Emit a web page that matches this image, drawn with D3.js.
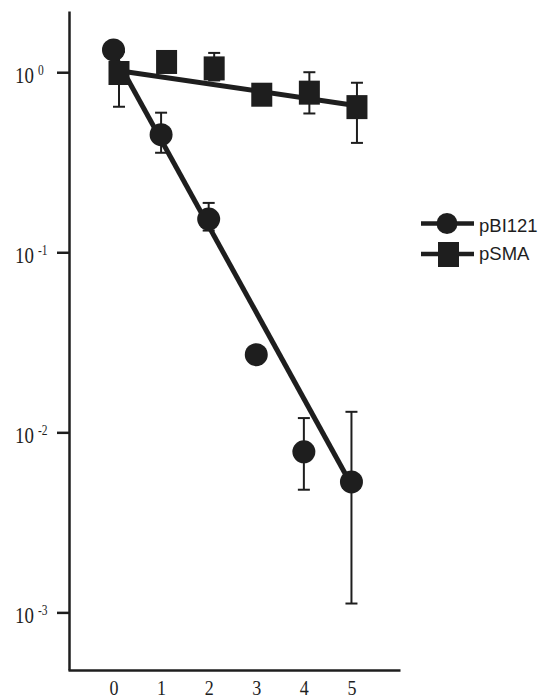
<!DOCTYPE html>
<html>
<head>
<meta charset="utf-8">
<script src="https://cdn.jsdelivr.net/npm/d3@7"></script>
<style>
  body { margin: 0; background: #fff; }
</style>
</head>
<body>
<script>
var width = 543,
    height = 700;

// data
var xVals = [0, 1, 2, 3, 4, 5];
var seriesNames = ["pBI121", "pSMA"];
var pbiMean = [1.33, 0.45, 0.153, 0.027, 0.0078, 0.0053];
var pbiLow  = [null, 0.357, 0.132, null, 0.0048, 0.00112];
var pbiHigh = [null, 0.596, 0.188, null, 0.012, 0.013];
var smaMean = [0.99, 1.14, 1.05, 0.75, 0.77, 0.64];
var smaLow  = [0.643, null, 0.9, null, 0.59, 0.405];
var smaHigh = [1.3, null, 1.28, null, 1.0, 0.874];
// fitted lines, value at x = 0 and x = 5
var pbiFit = [1.27, 0.0051];
var smaFit = [1.02, 0.652];
var yTicks = [1, 0.1, 0.01, 0.001];
var yTickExp = ["0", "-1", "-2", "-3"];

var ink = "#1e1e1e";
var smaShift = 5.5; // squares sit a little right of the circles

var svg = d3.select("body").append("svg")
    .attr("width", width)
    .attr("height", height);

var x = d3.scaleLinear().domain([-0.956, 6.02]).range([68, 400]);
var y = d3.scaleLog().domain([Math.pow(10, -3.32), Math.pow(10, 0.34)]).range([670, 11]);

// axes
var yAxis = svg.append("g")
    .attr("transform", "translate(69,0)")
    .call(d3.axisLeft(y).tickValues(yTicks).tickSize(12).tickSizeOuter(0).tickFormat(""));
yAxis.selectAll("path, line").attr("stroke", ink).attr("stroke-width", 2.5);

var xAxis = svg.append("g")
    .attr("transform", "translate(0,670)")
    .call(d3.axisBottom(x).tickValues(xVals).tickSize(0).tickSizeOuter(0).tickFormat(d3.format("d")));
xAxis.select(".domain").attr("stroke", ink).attr("stroke-width", 2.5);
xAxis.selectAll("text")
    .attr("y", 0).attr("dy", null)
    .attr("transform", "translate(0,25) scale(0.82,1)")
    .attr("fill", ink)
    .style("font-family", "'Liberation Serif', 'Times New Roman', serif")
    .style("font-size", "22px");

yTicks.forEach(function (t, i) {
    var lab = svg.append("text")
        .attr("transform", "translate(15," + (y(t) + 10.5) + ") scale(0.82,1)")
        .attr("fill", ink)
        .style("font-family", "'Liberation Serif', 'Times New Roman', serif")
        .style("font-size", "23px")
        .text("10");
    lab.append("tspan")
        .attr("dx", 5)
        .attr("dy", -8)
        .style("font-size", "14px")
        .text(yTickExp[i]);
});

// fitted lines
svg.append("line")
    .attr("x1", x(0)).attr("y1", y(pbiFit[0]))
    .attr("x2", x(5)).attr("y2", y(pbiFit[1]))
    .attr("stroke", ink).attr("stroke-width", 5);
svg.append("line")
    .attr("x1", x(0) + smaShift).attr("y1", y(smaFit[0]))
    .attr("x2", x(5) + smaShift).attr("y2", y(smaFit[1]))
    .attr("stroke", ink).attr("stroke-width", 5);

function errorBars(low, high, shift) {
    var rows = xVals.map(function (v, i) { return {x: v, lo: low[i], hi: high[i]}; })
        .filter(function (d) { return d.lo != null; });
    var g = svg.append("g").attr("stroke", ink).attr("stroke-width", 2);
    g.selectAll(".bar").data(rows).enter().append("line")
        .attr("x1", function (d) { return x(d.x) + shift; })
        .attr("x2", function (d) { return x(d.x) + shift; })
        .attr("y1", function (d) { return y(d.lo); })
        .attr("y2", function (d) { return y(d.hi); });
    g.selectAll(".capLo").data(rows).enter().append("line")
        .attr("x1", function (d) { return x(d.x) + shift - 6; })
        .attr("x2", function (d) { return x(d.x) + shift + 6; })
        .attr("y1", function (d) { return y(d.lo); })
        .attr("y2", function (d) { return y(d.lo); });
    g.selectAll(".capHi").data(rows).enter().append("line")
        .attr("x1", function (d) { return x(d.x) + shift - 6; })
        .attr("x2", function (d) { return x(d.x) + shift + 6; })
        .attr("y1", function (d) { return y(d.hi); })
        .attr("y2", function (d) { return y(d.hi); });
}

errorBars(pbiLow, pbiHigh, 0);
errorBars(smaLow, smaHigh, smaShift);

// markers
svg.selectAll(".pbi")
    .data(xVals)
    .enter().append("circle")
    .attr("class", "pbi")
    .attr("cx", function (d) { return x(d); })
    .attr("cy", function (d, i) { return y(pbiMean[i]); })
    .attr("r", 11.5)
    .attr("fill", ink);

svg.selectAll(".sma")
    .data(xVals)
    .enter().append("rect")
    .attr("class", "sma")
    .attr("x", function (d) { return x(d) + smaShift - 10.5; })
    .attr("y", function (d, i) { return y(smaMean[i]) - 12; })
    .attr("width", 21)
    .attr("height", 24)
    .attr("fill", ink);

// legend
var legend = svg.append("g");
legend.append("line").attr("x1", 421).attr("x2", 474).attr("y1", 223.5).attr("y2", 223.5)
    .attr("stroke", ink).attr("stroke-width", 4.5);
legend.append("circle").attr("cx", 447).attr("cy", 223.5).attr("r", 10.5).attr("fill", ink);
legend.append("line").attr("x1", 421).attr("x2", 474).attr("y1", 254).attr("y2", 254)
    .attr("stroke", ink).attr("stroke-width", 4.5);
legend.append("rect").attr("x", 438).attr("y", 242).attr("width", 21).attr("height", 25).attr("fill", ink);
legend.selectAll(".ltxt")
    .data(seriesNames)
    .enter().append("text")
    .attr("x", 479)
    .attr("y", function (d, i) { return i == 0 ? 231.5 : 260; })
    .attr("fill", ink)
    .style("font-family", "'Liberation Sans', Arial, sans-serif")
    .style("font-size", "18.5px")
    .text(function (d) { return d; });
</script>
</body>
</html>
